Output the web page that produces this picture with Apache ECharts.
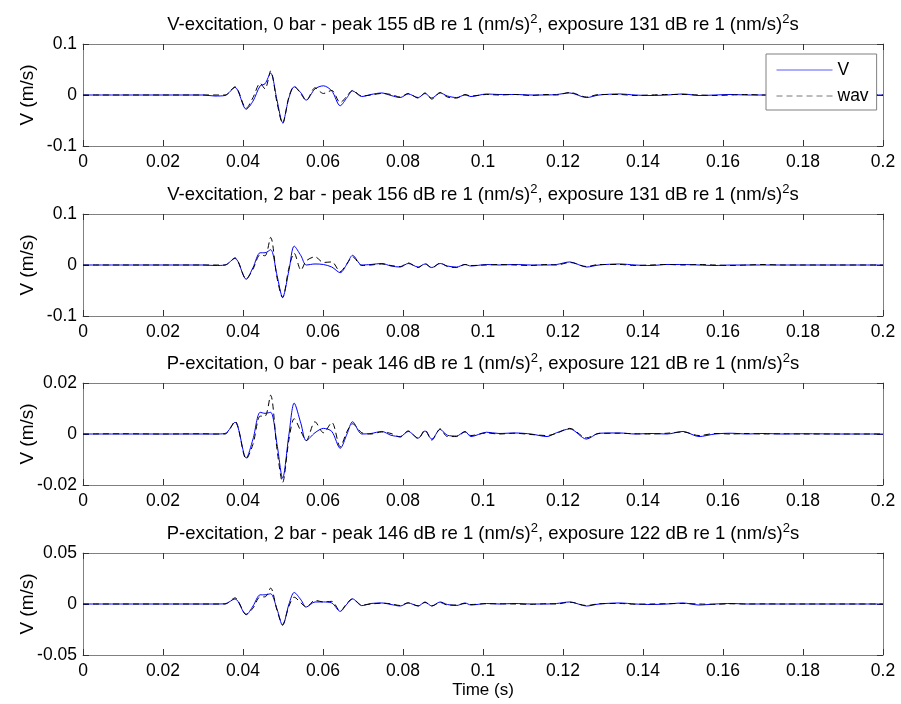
<!DOCTYPE html>
<html>
<head>
<meta charset="utf-8">
<script src="https://cdn.jsdelivr.net/npm/echarts@6/dist/echarts.min.js"></script>
<style>
html,body{margin:0;padding:0;background:#fff;}
#chart{width:901px;height:704px;}
</style>
</head>
<body>
<div id="chart"></div>
<script>
// ---- data ----
const time = [0, 0.010, 0.020, 0.030,
  0.033, 0.0355,
  0.038, 0.0408, 0.0425, 0.0443, 0.0455, 0.0469,
  0.0485, 0.0499, 0.0515, 0.0528, 0.0545, 0.0558,
  0.058, 0.0601, 0.0622, 0.0643, 0.066, 0.0674,
  0.0697, 0.072, 0.0747, 0.077, 0.0793, 0.0813,
  0.0838, 0.0855, 0.0872, 0.0893, 0.0911, 0.0934,
  0.0955, 0.097, 0.1009, 0.104, 0.108, 0.112,
  0.116, 0.1184, 0.1217, 0.1259, 0.129, 0.1342,
  0.138, 0.142, 0.146, 0.150, 0.154, 0.158,
  0.162, 0.166, 0.170, 0.175, 0.180, 0.190,
  0.200];

const v1 = [0, 0, 0, 0,
  -0.002, -0.001,
  0.015, -0.028, -0.012, 0.018, 0.022, 0.043,
  -0.010, -0.054, -0.005, 0.016, 0.004, -0.010,
  0.012, 0.018, 0.008, -0.021, -0.005, 0.008,
  -0.003, 0.001, 0.004, -0.001, -0.005, 0.002,
  -0.005, 0.003, -0.006, 0.004, -0.002, -0.005,
  0.000, -0.003, 0.002, 0.001, 0.001, 0.000,
  0.000, 0.001, 0.004, -0.005, 0.000, 0.002,
  0.000, -0.001, 0.000, 0.002, -0.001, 0.000,
  0.001, 0.000, 0.000, 0.000, 0.000, 0.000,
  0];
const w1 = [0, 0, 0, 0,
  0, 0,
  0.016, -0.026, -0.005, 0.023, 0.012, 0.047,
  -0.015, -0.056, -0.003, 0.017, 0.002, -0.011,
  0.014, 0.003, 0.009, -0.015, -0.002, 0.009,
  -0.002, 0.000, 0.003, 0.001, -0.004, 0.003,
  -0.006, 0.004, -0.008, 0.005, -0.004, -0.006,
  0.001, -0.002, 0.001, 0.000, 0.001, -0.001,
  0.001, 0.000, 0.005, -0.004, 0.001, 0.001,
  -0.001, 0.000, 0.001, 0.001, 0.000, -0.001,
  0.000, 0.001, 0.000, 0.000, 0.000, 0.000,
  0];
const v2 = [0, 0, 0, 0,
  -0.001, 0,
  0.013, -0.028, -0.005, 0.024, 0.024, 0.030,
  -0.020, -0.063, -0.010, 0.037, 0.018, 0.000,
  0.002, 0.001, -0.004, -0.015, 0.002, 0.019,
  0.000, 0.001, 0.003, -0.002, -0.004, 0.003,
  -0.004, 0.002, -0.005, 0.003, -0.002, -0.004,
  0.001, -0.002, 0.001, 0.000, 0.001, 0.000,
  0.000, 0.001, 0.006, -0.004, 0.000, 0.002,
  0.000, -0.001, 0.001, 0.001, 0.000, -0.001,
  0.000, 0.000, 0.000, 0.000, 0.000, 0.000,
  0];
const w2 = [0, 0, 0, 0,
  0, 0,
  0.014, -0.027, -0.008, 0.020, 0.018, 0.054,
  -0.025, -0.064, -0.005, 0.023, -0.010, 0.008,
  0.016, 0.005, 0.006, -0.013, 0.003, 0.016,
  -0.001, 0.000, 0.002, -0.001, -0.003, 0.004,
  -0.005, 0.003, -0.006, 0.004, -0.003, -0.005,
  0.001, -0.001, 0.000, 0.001, 0.000, -0.001,
  0.001, 0.000, 0.005, -0.003, 0.001, 0.001,
  -0.001, 0.000, 0.001, 0.000, 0.001, 0.000,
  -0.001, 0.000, 0.001, 0.000, 0.000, 0.000,
  0];
const v3 = [0, 0, 0, 0,
  0, 0.0002,
  0.0046, -0.0094, -0.0020, 0.0085, 0.0081, 0.0085,
  -0.0040, -0.0173, 0.0000, 0.0121, 0.0040, -0.0026,
  0.0005, 0.0022, 0.0010, -0.0056, 0.0000, 0.0048,
  0.0000, 0.0002, 0.0010, -0.0005, -0.0010, 0.0010,
  -0.0016, 0.0012, -0.0020, 0.0018, -0.0005, -0.0008,
  0.0010, -0.0010, 0.0007, 0.0002, 0.0004, 0.0000,
  -0.0010, 0.0005, 0.0020, -0.0020, 0.0003, 0.0004,
  0.0000, 0.0002, 0.0000, 0.0010, -0.0010, 0.0000,
  0.0003, 0.0000, 0.0002, 0.0000, 0.0001, 0.0000,
  0];
const w3 = [0, 0.0001, 0, 0.0001,
  0, 0,
  0.0050, -0.0098, -0.0040, 0.0070, 0.0070, 0.0152,
  -0.0060, -0.0190, -0.0020, 0.0060, 0.0010, -0.0026,
  0.0048, 0.0005, 0.0045, -0.0050, 0.0010, 0.0040,
  0.0005, 0.0000, 0.0008, 0.0002, -0.0012, 0.0012,
  -0.0018, 0.0016, -0.0024, 0.0020, -0.0010, -0.0010,
  0.0008, -0.0006, 0.0004, 0.0000, 0.0003, -0.0002,
  -0.0006, 0.0003, 0.0022, -0.0015, 0.0002, 0.0003,
  0.0001, 0.0000, 0.0003, 0.0008, -0.0006, 0.0002,
  0.0000, 0.0002, 0.0000, 0.0001, 0.0000, 0.0000,
  0];
const v4 = [0, 0, 0, 0,
  0, 0.0002,
  0.0050, -0.0105, -0.0020, 0.0090, 0.0090, 0.0100,
  -0.0050, -0.0210, 0.0000, 0.0113, 0.0040, -0.0030,
  0.0020, 0.0020, 0.0010, -0.0072, 0.0000, 0.0050,
  -0.0016, 0.0005, 0.0010, -0.0005, -0.0020, 0.0010,
  -0.0020, 0.0020, -0.0020, 0.0020, -0.0005, -0.0015,
  0.0010, -0.0010, 0.0005, 0.0000, 0.0005, 0.0000,
  0.0000, 0.0005, 0.0020, -0.0020, 0.0000, 0.0010,
  0.0000, -0.0005, 0.0000, 0.0010, -0.0010, 0.0000,
  0.0005, 0.0000, 0.0000, 0.0000, 0.0000, 0.0000,
  0];
const w4 = [0, 0, 0, 0,
  0, 0,
  0.0060, -0.0100, -0.0040, 0.0070, 0.0070, 0.0156,
  -0.0060, -0.0200, -0.0020, 0.0067, 0.0010, -0.0030,
  0.0036, 0.0020, 0.0026, -0.0070, 0.0010, 0.0050,
  -0.0010, 0.0000, 0.0008, 0.0002, -0.0015, 0.0012,
  -0.0018, 0.0015, -0.0018, 0.0015, -0.0010, -0.0010,
  0.0005, -0.0005, 0.0003, 0.0002, 0.0000, -0.0003,
  0.0003, 0.0000, 0.0018, -0.0015, 0.0002, 0.0005,
  -0.0002, 0.0000, 0.0003, 0.0005, 0.0000, -0.0003,
  0.0002, 0.0000, 0.0001, 0.0000, 0.0000, 0.0000,
  0];

const seriesV = [v1, v2, v3, v4];
const seriesW = [w1, w2, w3, w4];
const yLimits = [0.1, 0.1, 0.02, 0.05];
const yIntervals = [0.1, 0.1, 0.02, 0.05];
const titles = [
  ['V-excitation, 0 bar - peak 155 dB re 1 (nm/s)', ', exposure 131 dB re 1 (nm/s)', 's'],
  ['V-excitation, 2 bar - peak 156 dB re 1 (nm/s)', ', exposure 131 dB re 1 (nm/s)', 's'],
  ['P-excitation, 0 bar - peak 146 dB re 1 (nm/s)', ', exposure 121 dB re 1 (nm/s)', 's'],
  ['P-excitation, 2 bar - peak 146 dB re 1 (nm/s)', ', exposure 122 dB re 1 (nm/s)', 's']
];
const yName = 'V (m/s)';
const xName = 'Time (s)';
const legendNames = ['V', 'wav'];

// ---- layout / style ----
const FONT = 'Liberation Sans, Arial, sans-serif';
const FS = 17.5;
const gridTops = [44, 214, 383, 553];
const gridH = 102;
const gridLeft = 83, gridRight = 18;
const lineCol = '#808080', tickCol = '#333';

const chart = echarts.init(document.getElementById('chart'), null, {renderer: 'canvas'});

const grids = [], xAxes = [], yAxes = [], series = [], titleArr = [];
for (let i = 0; i < 4; i++) {
  grids.push({left: gridLeft, right: gridRight, top: gridTops[i], height: gridH, containLabel: false});
  const baseX = {
    type: 'value', gridIndex: i, min: 0, max: 0.2, interval: 0.02,
    axisLine: {show: true, onZero: false, lineStyle: {color: lineCol, width: 1}},
    axisTick: {show: true, inside: true, length: 6, lineStyle: {color: tickCol}},
    splitLine: {show: false}
  };
  xAxes.push(Object.assign({}, baseX, {
    position: 'bottom',
    axisLabel: {show: true, color: '#000', fontSize: FS, fontFamily: FONT, margin: 7},
    name: i === 3 ? xName : '',
    nameLocation: 'middle', nameGap: 27, nameMoveOverlap: false,
    nameTextStyle: {color: '#000', fontSize: 17, fontFamily: FONT}
  }));
  xAxes.push(Object.assign({}, baseX, {position: 'top', axisLabel: {show: false}}));
  const L = yLimits[i];
  const baseY = {
    type: 'value', gridIndex: i, min: -L, max: L, interval: yIntervals[i],
    axisLine: {show: true, onZero: false, lineStyle: {color: lineCol, width: 1}},
    axisTick: {show: true, inside: true, length: 6, lineStyle: {color: tickCol}},
    splitLine: {show: false}
  };
  yAxes.push(Object.assign({}, baseY, {
    position: 'left',
    axisLabel: {show: true, color: '#000', fontSize: FS, fontFamily: FONT, margin: 6},
    name: yName, nameLocation: 'middle', nameGap: 46, nameMoveOverlap: false,
    nameTextStyle: {color: '#000', fontSize: 19, fontFamily: FONT}
  }));
  yAxes.push(Object.assign({}, baseY, {position: 'right', axisLabel: {show: false}}));

  series.push({
    name: 'V', type: 'line', xAxisIndex: 2 * i, yAxisIndex: 2 * i,
    data: time.map((t, k) => [t, seriesV[i][k]]),
    symbol: 'none', showSymbol: false, smooth: 0.3, animation: false,
    lineStyle: {color: '#0000ff', width: 1}, itemStyle: {color: '#0000ff'}
  });
  series.push({
    name: 'wav', type: 'line', xAxisIndex: 2 * i, yAxisIndex: 2 * i,
    data: time.map((t, k) => [t, seriesW[i][k]]),
    symbol: 'none', showSymbol: false, smooth: 0.3, animation: false,
    lineStyle: {color: '#000', width: 1, type: [6, 4]}, itemStyle: {color: '#000'}
  });

  const tt = titles[i];
  titleArr.push({
    text: tt[0] + '{sup|2}' + tt[1] + '{sup|2}' + tt[2],
    left: 483, top: gridTops[i] - 31, textAlign: 'center', padding: 0,
    textStyle: {
      fontSize: 18.5, fontFamily: FONT, fontWeight: 'normal', color: '#000', lineHeight: 23,
      rich: {sup: {fontSize: 13, fontFamily: FONT, color: '#000', lineHeight: 13, verticalAlign: 'top'}}
    }
  });
}

chart.setOption({
  backgroundColor: '#fff',
  animation: false,
  title: titleArr,
  grid: grids,
  xAxis: xAxes,
  yAxis: yAxes,
  legend: {
    data: [
      {name: legendNames[0], lineStyle: {color: '#5a5aff', width: 1, type: 'solid'}},
      {name: legendNames[1], lineStyle: {color: '#777', width: 1, type: [6, 4]}}
    ],
    orient: 'vertical', left: 766, top: 54,
    itemWidth: 56, itemHeight: 14, itemGap: 8,
    padding: [7, 8, 5, 10],
    backgroundColor: '#fff', borderColor: '#808080', borderWidth: 1,
    itemStyle: {opacity: 0},
    textStyle: {color: '#000', fontSize: FS, fontFamily: FONT},
    selectedMode: false
  },
  series: series
});
</script>
</body>
</html>
